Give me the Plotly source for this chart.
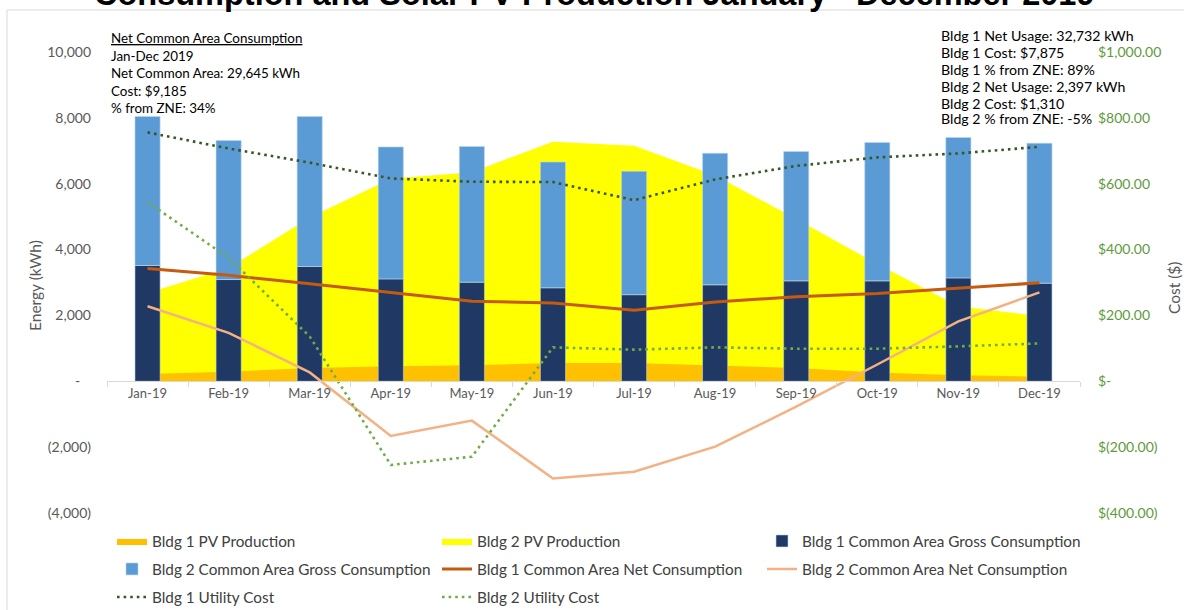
import plotly.graph_objects as go

# ---------------- data ----------------
months = ["Jan-19", "Feb-19", "Mar-19", "Apr-19", "May-19", "Jun-19",
          "Jul-19", "Aug-19", "Sep-19", "Oct-19", "Nov-19", "Dec-19"]
bldg1_pv = [220, 290, 400, 460, 490, 555, 555, 470, 400, 270, 180, 140]
bldg2_pv = [2680, 3440, 4975, 6150, 6350, 7275, 7150, 6250, 4930, 3560, 2280, 1980]
bldg1_gross = [3516, 3090, 3486, 3110, 3010, 2840, 2630, 2930, 3050, 3050, 3140, 2980]
bldg2_gross = [4527, 4222, 4557, 4007, 4120, 3820, 3748, 3995, 3927, 4201, 4263, 4250]
bldg1_net = [3425, 3220, 2960, 2685, 2430, 2380, 2155, 2410, 2570, 2665, 2835, 2990]
bldg2_net = [2280, 1470, 270, -1660, -1195, -2950, -2745, -1985, -770, 510, 1820, 2700]
bldg1_cost = [756, 707, 664, 616, 606, 605, 550, 613, 654, 680, 692, 712]
bldg2_cost = [544, 375, 136, -254, -229, 103, 96, 103, 99, 99, 106, 115]

energy_ticks = [-4000, -2000, 0, 2000, 4000, 6000, 8000, 10000]
energy_labels = ["(4,000)", "(2,000)", "-\u00a0\u00a0\u00a0", "2,000", "4,000", "6,000", "8,000", "10,000"]
cost_ticks = [-400, -200, 0, 200, 400, 600, 800, 1000]
cost_labels = ["$(400.00)", "$(200.00)", "$-", "$200.00", "$400.00", "$600.00", "$800.00", "$1,000.00"]

left_notes = ["<u>Net Common Area Consumption</u>", "Jan-Dec 2019",
              "Net Common Area: 29,645 kWh", "Cost: $9,185", "% from ZNE: 34%"]
right_notes = ["Bldg 1 Net Usage: 32,732 kWh", "Bldg 1 Cost: $7,875", "Bldg 1 % from ZNE: 89%",
               "Bldg 2 Net Usage: 2,397 kWh", "Bldg 2 Cost: $1,310", "Bldg 2 % from ZNE: -5%"]
title_text = "Consumption and Solar PV Production January - December 2019"

# ---------------- geometry ----------------
W, H = 1184, 610
L, R, T, B = 107, 104, 52, 97
PW = W - L - R
PH = H - T - B


def px_x(x):
    return (x - L) / PW


def px_y(y):
    return (H - B - y) / PH


FONT = "Lato"
C_BLDG1_PV = "#FFC000"
C_BLDG2_PV = "#FFFF00"
C_BLDG1_GROSS = "#203864"
C_BLDG2_GROSS = "#5B9BD5"
C_BLDG1_NET = "#C55A11"
C_BLDG2_NET = "#F4B183"
C_BLDG1_COST = "#385723"
C_BLDG2_COST = "#70AD47"

fig = go.Figure()

# areas (base subplot, drawn underneath)
fig.add_trace(go.Scatter(x=months, y=bldg2_pv, name="Bldg 2 PV Production", mode="lines",
                         line=dict(width=0, color=C_BLDG2_PV), fill="tozeroy", fillcolor=C_BLDG2_PV,
                         xaxis="x", yaxis="y", legend="legend", legendrank=2))
fig.add_trace(go.Scatter(x=months, y=bldg1_pv, name="Bldg 1 PV Production", mode="lines",
                         line=dict(width=0, color=C_BLDG1_PV), fill="tozeroy", fillcolor=C_BLDG1_PV,
                         xaxis="x", yaxis="y", legend="legend", legendrank=1))
# bars + net lines (overlay subplot)
fig.add_trace(go.Bar(x=months, y=bldg1_gross, name="Bldg 1 Common Area Gross Consumption",
                     marker=dict(color=C_BLDG1_GROSS, line=dict(color="#BDD7EE", width=0.6)),
                     width=0.31, xaxis="x", yaxis="y2", legend="legend", legendrank=3))
fig.add_trace(go.Bar(x=months, y=bldg2_gross, name="Bldg 2 Common Area Gross Consumption",
                     marker=dict(color=C_BLDG2_GROSS, line=dict(color="#BDD7EE", width=0.6)),
                     width=0.31, xaxis="x", yaxis="y2", legend="legend2", legendrank=1))
fig.add_trace(go.Scatter(x=months, y=bldg1_net, name="Bldg 1 Common Area Net Consumption", mode="lines",
                         line=dict(color=C_BLDG1_NET, width=3), xaxis="x", yaxis="y2",
                         legend="legend2", legendrank=2))
fig.add_trace(go.Scatter(x=months, y=bldg2_net, name="Bldg 2 Common Area Net Consumption", mode="lines",
                         line=dict(color=C_BLDG2_NET, width=2.5), xaxis="x", yaxis="y2",
                         legend="legend2", legendrank=3))
# cost lines (right axis)
fig.add_trace(go.Scatter(x=months, y=bldg1_cost, name="Bldg 1 Utility Cost", mode="lines",
                         line=dict(color=C_BLDG1_COST, width=2.6, dash="2.6px,4px"), xaxis="x", yaxis="y3",
                         legend="legend3", legendrank=1))
fig.add_trace(go.Scatter(x=months, y=bldg2_cost, name="Bldg 2 Utility Cost", mode="lines",
                         line=dict(color=C_BLDG2_COST, width=2.6, dash="2.6px,4px"), xaxis="x", yaxis="y3",
                         legend="legend3", legendrank=2))

legend_common = dict(orientation="h", xanchor="left", yanchor="middle", entrywidth=280,
                     entrywidthmode="pixels", bgcolor="rgba(0,0,0,0)", traceorder="normal",
                     font=dict(family=FONT, size=15.3, color="#404040"), borderwidth=0)

fig.update_layout(
    width=W, height=H,
    margin=dict(l=L, r=R, t=T, b=B, autoexpand=False),
    paper_bgcolor="white", plot_bgcolor="rgba(0,0,0,0)",
    barmode="relative",
    font=dict(family=FONT, size=13, color="#595959"),
    showlegend=True,
    xaxis=dict(type="category", categoryorder="array", categoryarray=months, range=[-0.5, 11.5],
               anchor="free", position=4000 / 14000, showline=True, linecolor="#D9D9D9", linewidth=1,
               ticks="outside", tickson="boundaries", ticklen=5, tickcolor="#D9D9D9",
               showgrid=False, zeroline=False, tickfont=dict(family=FONT, size=13, color="#595959")),
    yaxis=dict(range=[-4000, 10000], tickmode="array", tickvals=energy_ticks, ticktext=energy_labels,
               showgrid=False, zeroline=False, showline=False, ticks="", ticklabelstandoff=15,
               tickfont=dict(family=FONT, size=14, color="#595959")),
    yaxis2=dict(overlaying="y", range=[-4000, 10000], visible=False, showgrid=False, zeroline=False),
    yaxis3=dict(overlaying="y", side="right", anchor="x", range=[-400, 1000], tickmode="array",
                tickvals=cost_ticks, ticktext=cost_labels, showgrid=False, zeroline=False,
                showline=False, ticks="", ticklabelstandoff=17,
                tickfont=dict(family=FONT, size=14, color="#5E9A3B")),
    legend=dict(x=px_x(112), y=px_y(541), **legend_common),
    legend2=dict(x=px_x(112), y=px_y(569), **legend_common),
    legend3=dict(x=px_x(112), y=px_y(597), **legend_common),
)

annotations = []
# title (partially cut off at top, as in the reference)
annotations.append(dict(text="<b>" + title_text + "</b>", xref="paper", yref="paper",
                        x=px_x(594), y=px_y(14), xanchor="center", yanchor="bottom", showarrow=False,
                        font=dict(family="Liberation Sans", size=32.5, color="#000000")))
# axis titles
annotations.append(dict(text="Energy (kWh)", xref="paper", yref="paper", x=px_x(35), y=px_y(286),
                        xanchor="center", yanchor="middle", textangle=-90, showarrow=False,
                        font=dict(family=FONT, size=15.5, color="#595959")))
annotations.append(dict(text="Cost ($)", xref="paper", yref="paper", x=px_x(1174), y=px_y(288),
                        xanchor="center", yanchor="middle", textangle=-90, showarrow=False,
                        font=dict(family=FONT, size=15.5, color="#595959")))
left_y = [38, 56, 73, 91, 108]
for t, yy in zip(left_notes, left_y):
    annotations.append(dict(text=t, xref="paper", yref="paper", x=px_x(109), y=px_y(yy),
                            xanchor="left", yanchor="middle", showarrow=False,
                            font=dict(family=FONT, size=13.4, color="#000000")))
right_y = [35, 52, 70, 86, 103, 119]
for t, yy in zip(right_notes, right_y):
    annotations.append(dict(text=t, xref="paper", yref="paper", x=px_x(939), y=px_y(yy),
                            xanchor="left", yanchor="middle", showarrow=False,
                            font=dict(family=FONT, size=14.2, color="#000000")))
fig.update_layout(annotations=annotations)

# chart-area frame
fig.add_shape(type="rect", xref="paper", yref="paper", x0=px_x(7), x1=px_x(1200), y0=px_y(640), y1=px_y(10),
              line=dict(color="#D9D9D9", width=1), fillcolor="rgba(0,0,0,0)", layer="below")

fig.write_html("out.html", config={"displayModeBar": False},
               post_script="document.body.style.margin='0px';")
